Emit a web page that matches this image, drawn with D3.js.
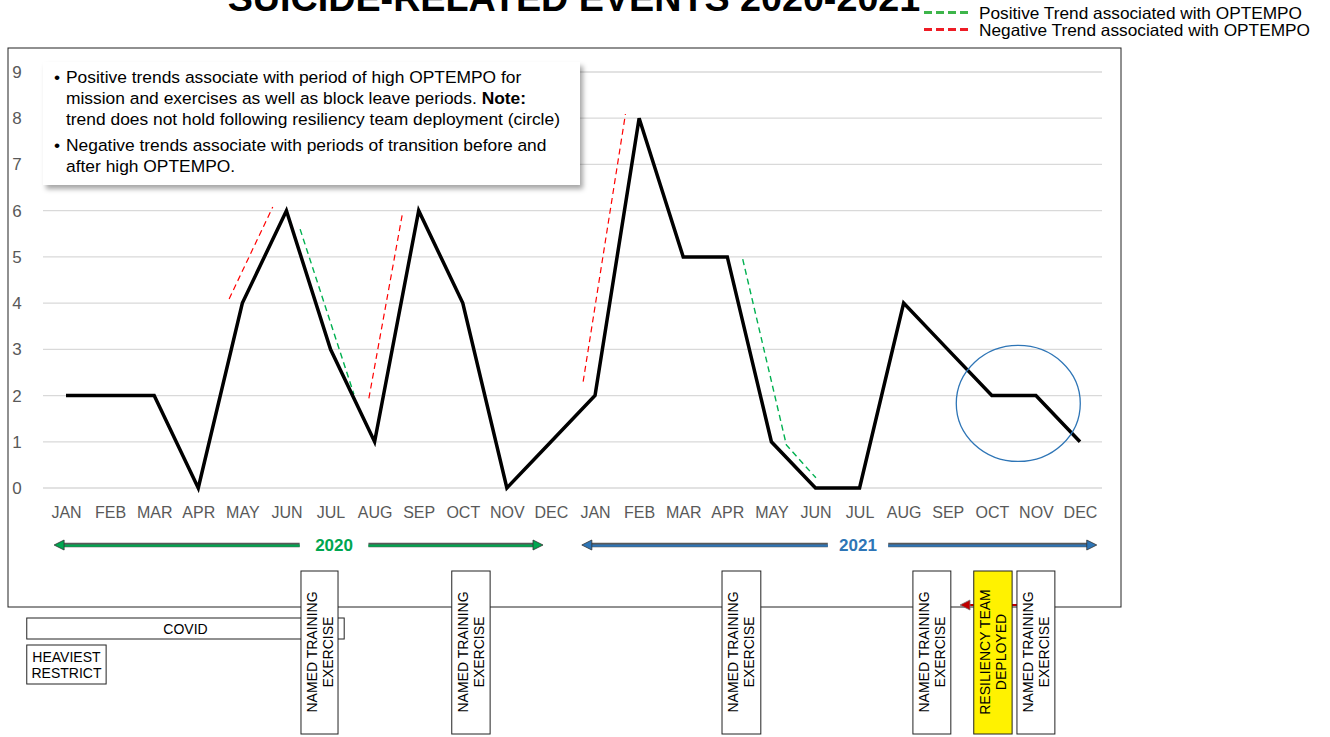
<!DOCTYPE html>
<html><head><meta charset="utf-8">
<script src="https://cdn.jsdelivr.net/npm/d3@7"></script>
<style>
html,body{margin:0;padding:0;background:#fff;}
svg{display:block;font-family:"Liberation Sans",Arial,sans-serif;}
</style></head>
<body>
<svg id="c" width="1330" height="737"></svg>
<script>
// ---- data ----
const monthNames = ["JAN","FEB","MAR","APR","MAY","JUN","JUL","AUG","SEP","OCT","NOV","DEC"];
const monthLabels = monthNames.concat(monthNames);
const events2020 = [2,2,2,0,4,6,3,1,6,4,0,1];
const events2021 = [2,8,5,5,1,0,0,4,3,2,2,1];
const yTicks = [0,1,2,3,4,5,6,7,8,9];
// trend lines: [month index (fractional), value]
const positiveTrends = [
  [[5.31,5.60],[6.53,2.03]],
  [[15.35,4.95],[16.34,0.93],[17.01,0.22]]
];
const negativeTrends = [
  [[3.70,4.09],[4.69,6.08]],
  [[6.87,1.94],[7.63,5.93]],
  [[11.73,2.30],[12.69,8.09]]
];
const circleCenter = [21.6,1.83];
const years = [
  {label:"2020", start:-0.27, end:10.82, gapStart:5.3, gapEnd:6.86, color:"#00A650"},
  {label:"2021", start:11.70, end:23.38, gapStart:17.28, gapEnd:18.65, color:"#2E75B6"}
];
const exerciseBoxes = [
  {start:5.33, end:6.17, lines:["NAMED TRAINING","EXERCISE"], fill:"#fff"},
  {start:8.75, end:9.62, lines:["NAMED TRAINING","EXERCISE"], fill:"#fff"},
  {start:14.88, end:15.76, lines:["NAMED TRAINING","EXERCISE"], fill:"#fff"},
  {start:19.21, end:20.07, lines:["NAMED TRAINING","EXERCISE"], fill:"#fff"},
  {start:20.59, end:21.46, lines:["RESILIENCY TEAM","DEPLOYED"], fill:"#FFF200"},
  {start:21.57, end:22.43, lines:["NAMED TRAINING","EXERCISE"], fill:"#fff"}
];
const covidPeriod = {start:-0.89, end:6.31, label:"COVID"};
const heaviestPeriod = {start:-0.89, end:0.91, lines:["HEAVIEST","RESTRICT"]};
const noteLines = [
  {bullet:true, parts:[["Positive trends associate with period of high OPTEMPO for",false]]},
  {bullet:false, parts:[["mission and exercises as well as block leave periods. ",false],["Note:",true]]},
  {bullet:false, parts:[["trend does not hold following resiliency team deployment (circle)",false]]},
  {bullet:true, parts:[["Negative trends associate with periods of transition before and",false]]},
  {bullet:false, parts:[["after high OPTEMPO.",false]]}
];
const legendItems = [
  {label:"Positive Trend associated with OPTEMPO", color:"#3DB54A"},
  {label:"Negative Trend associated with OPTEMPO", color:"#EE1C25"}
];

// ---- drawing ----
const svg = d3.select("#c");
const values = events2020.concat(events2021);
const x = d3.scaleLinear().domain([0,23]).range([66,1080]);
const y = d3.scaleLinear().domain([0,9]).range([488,72]);

const defs = svg.append("defs");
const f = defs.append("filter").attr("id","sh").attr("x","-5%").attr("y","-10%").attr("width","115%").attr("height","130%");
f.append("feDropShadow").attr("dx",3).attr("dy",4).attr("stdDeviation",2.5).attr("flood-color","#000").attr("flood-opacity",0.35);

// title
svg.append("text").attr("x",574).attr("y",11).attr("text-anchor","middle")
  .attr("font-size",37.7).attr("font-weight","bold").attr("fill","#000")
  .text("SUICIDE-RELATED EVENTS 2020-2021");

// legend
legendItems.forEach((d,i)=>{
  const ly = 12.5 + i*17;
  svg.append("line").attr("x1",924).attr("x2",972).attr("y1",ly).attr("y2",ly)
    .attr("stroke",d.color).attr("stroke-width",3).attr("stroke-dasharray","8,4");
  svg.append("text").attr("x",979).attr("y",ly+6).attr("font-size",16.5).attr("fill","#000")
    .attr("textLength", i===0?323:331).attr("lengthAdjust","spacingAndGlyphs").text(d.label);
});

// frame
svg.append("rect").attr("x",8).attr("y",48).attr("width",1113).attr("height",559)
  .attr("fill","none").attr("stroke","#222").attr("stroke-width",1);

// gridlines
svg.append("g").selectAll("line").data(yTicks).join("line")
  .attr("x1",43).attr("x2",1102).attr("y1",d=>y(d)).attr("y2",d=>y(d))
  .attr("stroke","#D9D9D9").attr("stroke-width",1.3);

// y labels
svg.append("g").selectAll("text").data(yTicks).join("text")
  .attr("x",17).attr("y",d=>y(d)+6).attr("text-anchor","middle")
  .attr("font-size",17).attr("fill","#595959").text(d=>d);

// x axis
const xAxis = d3.axisBottom(x).tickValues(d3.range(24)).tickFormat(i=>monthLabels[i]).tickSize(0).tickPadding(0);
const gx = svg.append("g").attr("transform","translate(0,506)").call(xAxis);
gx.select(".domain").remove();
gx.selectAll("text").attr("font-size",16).attr("fill","#595959").attr("font-family","Liberation Sans, Arial, sans-serif").attr("dy","0.75em");

// trend lines
const tl = d3.line().x(d=>x(d[0])).y(d=>y(d[1]));
svg.append("g").selectAll("path").data(positiveTrends).join("path")
  .attr("d",tl).attr("fill","none").attr("stroke","#00B050").attr("stroke-width",1.4).attr("stroke-dasharray","6,4");
svg.append("g").selectAll("path").data(negativeTrends).join("path")
  .attr("d",tl).attr("fill","none").attr("stroke","#FF0000").attr("stroke-width",1.2).attr("stroke-dasharray","6,4");

// main line
svg.append("path").datum(values)
  .attr("d",d3.line().x((d,i)=>x(i)).y(d=>y(d)))
  .attr("fill","none").attr("stroke","#000").attr("stroke-width",3.5).attr("stroke-linejoin","miter");

// circle
svg.append("ellipse").attr("cx",x(circleCenter[0])).attr("cy",y(circleCenter[1]))
  .attr("rx",62).attr("ry",58).attr("fill","none").attr("stroke","#2E75B6").attr("stroke-width",1.3);

// note box
const nb = svg.append("g");
nb.append("rect").attr("x",43).attr("y",62).attr("width",537).attr("height",123)
  .attr("fill","#fff").attr("filter","url(#sh)");
const lineYs = [83,104,125,151,172];
noteLines.forEach((ln,i)=>{
  if(ln.bullet){
    nb.append("text").attr("x",54).attr("y",lineYs[i]).attr("font-size",17.4).attr("fill","#000").text("•");
  }
  const t = nb.append("text").attr("x",66).attr("y",lineYs[i]).attr("font-size",17.4).attr("fill","#000");
  ln.parts.forEach(p=>t.append("tspan").attr("font-weight",p[1]?"bold":"normal").text(p[0]));
});

// year arrows
const ay = 545;
years.forEach(yr=>{
  const g = svg.append("g");
  const segs = [[x(yr.start)+6, x(yr.gapStart)],[x(yr.gapEnd), x(yr.end)-6]];
  segs.forEach(s=>{
    g.append("line").attr("x1",s[0]).attr("x2",s[1]).attr("y1",ay).attr("y2",ay).attr("stroke","#595959").attr("stroke-width",4.5);
    g.append("line").attr("x1",s[0]).attr("x2",s[1]).attr("y1",ay+0.6).attr("y2",ay+0.6).attr("stroke",yr.color).attr("stroke-width",2.2);
  });
  const xs = x(yr.start), xe = x(yr.end);
  g.append("path").attr("d",`M${xs},${ay} L${xs+10},${ay-5} L${xs+10},${ay+5} Z`).attr("fill",yr.color).attr("stroke","#333").attr("stroke-width",0.8);
  g.append("path").attr("d",`M${xe},${ay} L${xe-10},${ay-5} L${xe-10},${ay+5} Z`).attr("fill",yr.color).attr("stroke","#333").attr("stroke-width",0.8);
  g.append("text").attr("x",(x(yr.gapStart)+x(yr.gapEnd))/2).attr("y",ay+6).attr("text-anchor","middle")
    .attr("font-size",17).attr("font-weight","bold").attr("fill",yr.color).text(yr.label);
});

// COVID & heaviest boxes
svg.append("rect").attr("x",x(covidPeriod.start)).attr("y",618).attr("width",x(covidPeriod.end)-x(covidPeriod.start)).attr("height",21)
  .attr("fill","#fff").attr("stroke","#222").attr("stroke-width",1);
svg.append("text").attr("x",(x(covidPeriod.start)+x(covidPeriod.end))/2).attr("y",634).attr("text-anchor","middle")
  .attr("font-size",14).attr("fill","#000").text(covidPeriod.label);
svg.append("rect").attr("x",x(heaviestPeriod.start)).attr("y",645).attr("width",x(heaviestPeriod.end)-x(heaviestPeriod.start)).attr("height",39)
  .attr("fill","#fff").attr("stroke","#222").attr("stroke-width",1);
heaviestPeriod.lines.forEach((l,i)=>{
  svg.append("text").attr("x",(x(heaviestPeriod.start)+x(heaviestPeriod.end))/2).attr("y",662+i*16).attr("text-anchor","middle")
    .attr("font-size",14).attr("fill","#000").text(l);
});

// red arrow behind resiliency box
svg.append("line").attr("x1",x(21.57)).attr("x2",968).attr("y1",605).attr("y2",605).attr("stroke","#C00000").attr("stroke-width",2);
svg.append("path").attr("d","M960,605 L970,600 L970,610 Z").attr("fill","#C00000").attr("stroke","#777").attr("stroke-width",0.8);

// exercise boxes
exerciseBoxes.forEach(b=>{
  const x0 = x(b.start), x1 = x(b.end), cx = (x0+x1)/2, cy = 652;
  svg.append("rect").attr("x",x0).attr("y",571).attr("width",x1-x0).attr("height",163)
    .attr("fill",b.fill).attr("stroke","#222").attr("stroke-width",1);
  const t = svg.append("text").attr("transform",`translate(${cx},${cy}) rotate(-90)`)
    .attr("text-anchor","middle").attr("font-size",14).attr("fill","#000");
  b.lines.forEach((l,i)=>t.append("tspan").attr("x",0).attr("y",(i===0?-3:13)).text(l));
});
</script>
</body></html>
